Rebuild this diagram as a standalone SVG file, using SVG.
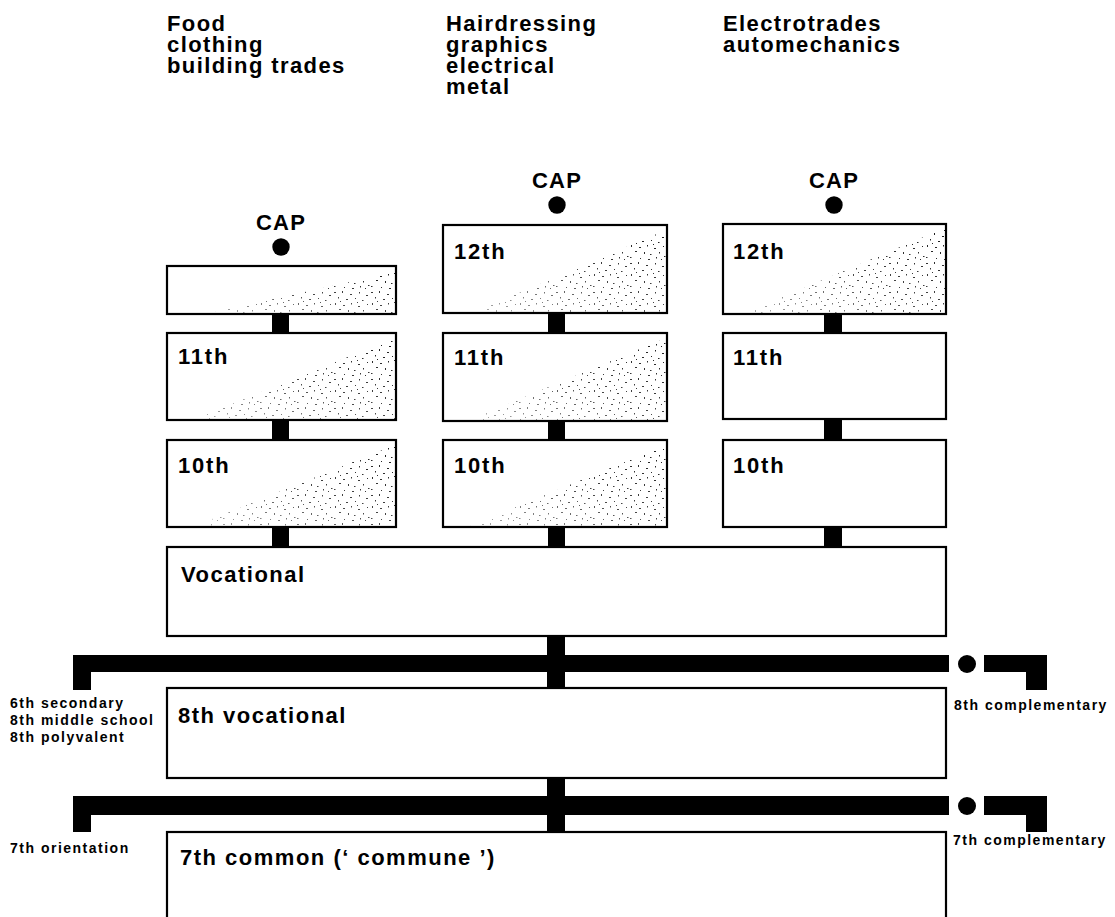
<svg xmlns="http://www.w3.org/2000/svg" width="1115" height="917" viewBox="0 0 1115 917">
<style>
  text { font-family: "Liberation Sans", Arial, sans-serif; font-weight: bold; fill: #000; }
  .hdr { font-size: 22px; letter-spacing: 1.4px; }
  .cap { font-size: 22px; letter-spacing: 1.2px; }
  .gr { font-size: 22px; letter-spacing: 1.8px; }
  .big { font-size: 22px; letter-spacing: 1.5px; }
  .sm { font-size: 14px; letter-spacing: 1.5px; }
  .box { fill: #fff; stroke: #000; stroke-width: 2.2; }
  .blk { fill: #000; }
  .stip { fill: url(#stipple); mask: url(#fade); }
</style>
<defs>
  <pattern id="stipple" width="37" height="29" patternUnits="userSpaceOnUse">
    <g fill="#1a1a1a">
      <rect x="1" y="2" width="2" height="1"/>
      <rect x="9" y="1" width="1" height="2"/>
      <rect x="17" y="4" width="2" height="1"/>
      <rect x="26" y="2" width="1" height="1.5"/>
      <rect x="33" y="5" width="2" height="1"/>
      <rect x="5" y="7" width="1" height="1.5"/>
      <rect x="13" y="9" width="2" height="1"/>
      <rect x="22" y="8" width="1" height="1"/>
      <rect x="29" y="10" width="1.5" height="1"/>
      <rect x="2" y="13" width="1" height="2"/>
      <rect x="10" y="15" width="2" height="1"/>
      <rect x="18" y="13" width="1" height="1.5"/>
      <rect x="25" y="16" width="2" height="1"/>
      <rect x="34" y="14" width="1" height="1"/>
      <rect x="6" y="19" width="2" height="1"/>
      <rect x="15" y="20" width="1" height="2"/>
      <rect x="21" y="22" width="1.5" height="1"/>
      <rect x="30" y="20" width="1" height="1.5"/>
      <rect x="1" y="25" width="1.5" height="1"/>
      <rect x="11" y="26" width="1" height="1"/>
      <rect x="19" y="27" width="2" height="1"/>
      <rect x="27" y="25" width="1" height="1.5"/>
      <rect x="35" y="24" width="1.5" height="1"/>
      <rect x="7" y="11" width="1" height="1"/>
      <rect x="24" y="12" width="1" height="1"/>
      <rect x="32" y="27" width="1" height="1"/>
    </g>
  </pattern>
  <linearGradient id="fadeGrad" x1="0" y1="1" x2="1" y2="0">
    <stop offset="0" stop-color="#fff" stop-opacity="0.35"/>
    <stop offset="0.5" stop-color="#fff" stop-opacity="0.8"/>
    <stop offset="1" stop-color="#fff" stop-opacity="1"/>
  </linearGradient>
  <mask id="fade" maskContentUnits="objectBoundingBox">
    <rect x="0" y="0" width="1" height="1" fill="url(#fadeGrad)"/>
  </mask>
</defs>
<rect width="1115" height="917" fill="#fff"/>

<g id="headers">
  <text class="hdr" x="167" y="31">Food</text>
  <text class="hdr" x="167" y="52">clothing</text>
  <text class="hdr" x="167" y="73">building trades</text>
  <text class="hdr" x="446" y="31">Hairdressing</text>
  <text class="hdr" x="446" y="52">graphics</text>
  <text class="hdr" x="446" y="73">electrical</text>
  <text class="hdr" x="446" y="94">metal</text>
  <text class="hdr" x="723" y="31">Electrotrades</text>
  <text class="hdr" x="723" y="52">automechanics</text>
</g>

<g id="connectors">
  <rect class="blk" x="272" y="313" width="17" height="21"/>
  <rect class="blk" x="272" y="419" width="17" height="22"/>
  <rect class="blk" x="272" y="527" width="17" height="21"/>
  <rect class="blk" x="548" y="312" width="17" height="22"/>
  <rect class="blk" x="548" y="420" width="17" height="21"/>
  <rect class="blk" x="548" y="526" width="17" height="22"/>
  <rect class="blk" x="824" y="313" width="18" height="21"/>
  <rect class="blk" x="824" y="419" width="18" height="22"/>
  <rect class="blk" x="824" y="526" width="18" height="22"/>
  <rect class="blk" x="547" y="635" width="18" height="54"/>
  <rect class="blk" x="547" y="777" width="18" height="56"/>
  <path class="blk" d="M73,655 H949 V672 H91 V690 H73 Z"/>
  <circle class="blk" cx="967" cy="664" r="9"/>
  <path class="blk" d="M984,655 H1047 V690 H1026 V672 H984 Z"/>
  <path class="blk" d="M73,796 H949 V815 H91 V832 H73 Z"/>
  <circle class="blk" cx="967" cy="806" r="9"/>
  <path class="blk" d="M984,796 H1047 V832 H1026 V815 H984 Z"/>
</g>

<g id="col-left">
  <text class="cap" x="281" y="230" text-anchor="middle">CAP</text>
  <circle class="blk" cx="281" cy="247" r="8.7"/>
</g>
<g id="left-12">
  <rect class="box" x="167" y="266" width="229" height="48"/>
  <polygon class="stip" points="210,313 395,272 395,313"/>
</g>
<g id="left-11">
  <rect class="box" x="167" y="333" width="229" height="87"/>
  <polygon class="stip" points="195,419 395,338 395,419"/>
  <text class="gr" x="178" y="364">11th</text>
</g>
<g id="left-10">
  <rect class="box" x="167" y="440" width="229" height="87"/>
  <polygon class="stip" points="195,526 395,445 395,526"/>
  <text class="gr" x="178" y="473">10th</text>
</g>

<g id="col-mid">
  <text class="cap" x="557" y="188" text-anchor="middle">CAP</text>
  <circle class="blk" cx="557" cy="205" r="8.7"/>
</g>
<g id="mid-12">
  <rect class="box" x="443" y="225" width="224" height="88"/>
  <polygon class="stip" points="475,312 666,230 666,312"/>
  <text class="gr" x="454" y="259">12th</text>
</g>
<g id="mid-11">
  <rect class="box" x="443" y="333" width="224" height="88"/>
  <polygon class="stip" points="470,420 666,338 666,420"/>
  <text class="gr" x="454" y="365">11th</text>
</g>
<g id="mid-10">
  <rect class="box" x="443" y="440" width="224" height="87"/>
  <polygon class="stip" points="470,526 666,445 666,526"/>
  <text class="gr" x="454" y="473">10th</text>
</g>

<g id="col-right">
  <text class="cap" x="834" y="188" text-anchor="middle">CAP</text>
  <circle class="blk" cx="834" cy="205" r="8.7"/>
</g>
<g id="right-12">
  <rect class="box" x="723" y="224" width="223" height="90"/>
  <polygon class="stip" points="745,313 945,228 945,313"/>
  <text class="gr" x="733" y="259">12th</text>
</g>
<g id="right-11">
  <rect class="box" x="723" y="333" width="223" height="86"/>
  <text class="gr" x="733" y="365">11th</text>
</g>
<g id="right-10">
  <rect class="box" x="723" y="440" width="223" height="87"/>
  <text class="gr" x="733" y="473">10th</text>
</g>

<g id="vocational">
  <rect class="box" x="167" y="547" width="779" height="89"/>
  <text class="big" x="181" y="582">Vocational</text>
</g>
<g id="eighth-vocational">
  <rect class="box" x="167" y="688" width="779" height="90"/>
  <text class="big" x="178" y="723">8th vocational</text>
</g>
<g id="seventh-common">
  <rect class="box" x="167" y="832" width="779" height="100"/>
  <text class="big" x="180" y="865">7th common (‘ commune ’)</text>
</g>

<g id="left-labels">
  <text class="sm" x="10" y="708">6th secondary</text>
  <text class="sm" x="10" y="725">8th middle school</text>
  <text class="sm" x="10" y="742">8th polyvalent</text>
  <text class="sm" x="10" y="853">7th orientation</text>
</g>
<g id="right-labels">
  <text class="sm" x="954" y="710">8th complementary</text>
  <text class="sm" x="953" y="845">7th complementary</text>
</g>
</svg>
